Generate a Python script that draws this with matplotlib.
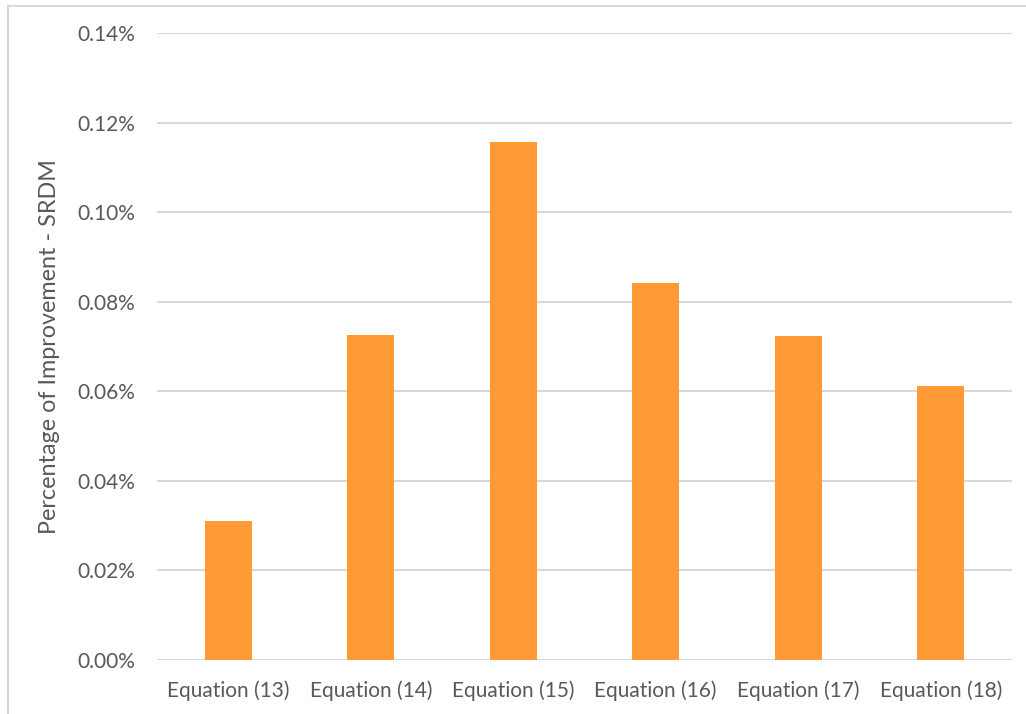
import matplotlib
matplotlib.use("Agg")
import matplotlib.pyplot as plt
from matplotlib.lines import Line2D
from matplotlib.ticker import FuncFormatter

# Improvement of each equation, in percent
categories = ["Equation (13)", "Equation (14)", "Equation (15)",
              "Equation (16)", "Equation (17)", "Equation (18)"]
improvement = [0.0310, 0.0725, 0.1157, 0.0842, 0.0723, 0.0611]
y_ticks = [0.00, 0.02, 0.04, 0.06, 0.08, 0.10, 0.12, 0.14]

plt.rcParams["font.family"] = ["Lato", "DejaVu Sans"]
text_color = "#595959"
grid_color = "#D9D9D9"
bar_color = "#FF9A35"

W, H = 1026, 714
fig = plt.figure(figsize=(W / 100, H / 100), dpi=100)
ax = fig.add_axes([157 / W, 1 - 660 / H, (1012 - 157) / W, (660 - 33.3) / H])

x = range(len(categories))
ax.bar(x, improvement, width=0.33, color=bar_color, zorder=3)

ax.set_xlim(-0.5, len(categories) - 0.5)
ax.set_ylim(0, 0.14)
ax.set_yticks(y_ticks)
ax.yaxis.set_major_formatter(FuncFormatter(lambda v, p: f"{v:.2f}%"))
ax.set_xticks(list(x))
ax.set_xticklabels(categories)

ax.grid(axis="y", color=grid_color, linewidth=1.5, zorder=0)
ax.grid(axis="x", visible=False)
for s in ax.spines.values():
    s.set_visible(False)
ax.tick_params(axis="both", length=0, colors=text_color, labelsize=15)
ax.tick_params(axis="y", pad=16)
ax.tick_params(axis="x", pad=15)

ax.set_ylabel("Percentage of Improvement - SRDM", color=text_color,
              fontsize=16.8, labelpad=12)

# chart area frame (left and top edges)
fig.add_artist(Line2D([8 / W, 8 / W], [0, 1 - 6 / H], transform=fig.transFigure,
                      color=grid_color, linewidth=1.5))
fig.add_artist(Line2D([8 / W, 1], [1 - 6 / H, 1 - 6 / H], transform=fig.transFigure,
                      color=grid_color, linewidth=1.5))

fig.savefig("out.png", dpi=100, facecolor="white")
